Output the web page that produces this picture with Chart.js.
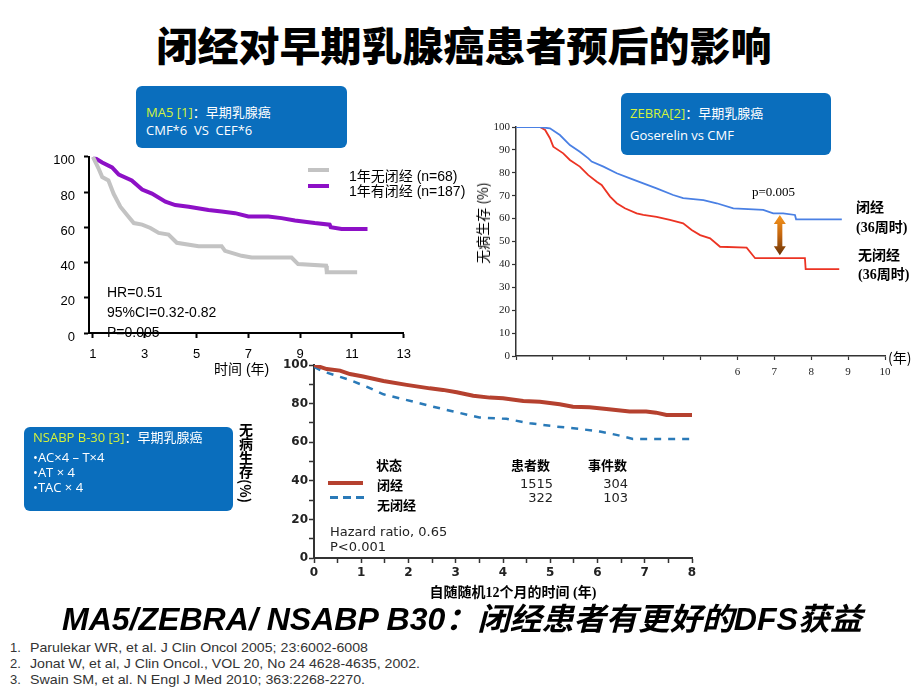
<!DOCTYPE html>
<html><head><meta charset="utf-8">
<script src="https://cdn.jsdelivr.net/npm/chart.js@4.4.1/dist/chart.umd.min.js"></script>
<style>
html,body{margin:0;padding:0;}
body{width:920px;height:690px;background:#fff;position:relative;overflow:hidden;font-family:"Liberation Sans","Noto Sans CJK SC",sans-serif;color:#000;}
canvas{position:absolute;}
.t{position:absolute;white-space:pre;line-height:1;transform:translateY(-50%);}
.box{position:absolute;background:#0a6ebd;border-radius:6px;color:#fff;font-family:"Open Sans","Noto Sans CJK SC",sans-serif;font-size:13px;z-index:5;}
.box .t{color:#fff;}
.y{color:#d4f23c;}
.fit{display:inline-block;white-space:pre;line-height:1;}
</style>
</head><body>

<!-- Title -->
<div class="t" style="left:0;width:920px;top:36px;text-align:center;">
  <span class="fit" data-w="615" style="font-family:'Noto Sans CJK SC';font-weight:900;font-size:40px;transform-origin:center;">闭经对早期乳腺癌患者预后的影响</span>
</div>

<!-- Canvases -->
<canvas id="c1" width="380" height="240" style="left:40px;top:140px;"></canvas>
<canvas id="c2" width="460" height="280" style="left:460px;top:110px;"></canvas>
<canvas id="c3" width="460" height="260" style="left:250px;top:350px;"></canvas>

<!-- MA5 box -->
<div class="box" style="left:136px;top:86px;width:211px;height:62px;">
  <div class="t" style="left:10px;top:25.5px;"><span class="y">MA5 [1]</span>：早期乳腺癌</div>
  <div class="t" style="left:10px;top:44px;">CMF*6  VS  CEF*6</div>
</div>
<!-- MA5 legend -->
<div style="position:absolute;left:308px;top:168px;width:21px;height:4px;background:#c3c3c3;"></div>
<div style="position:absolute;left:308px;top:184px;width:21px;height:4px;background:#8d10c6;"></div>
<div class="t" style="left:349px;top:176px;font-size:14px;">1年无闭经 (n=68)</div>
<div class="t" style="left:349px;top:191px;font-size:14px;">1年有闭经 (n=187)</div>
<div class="t" style="left:107px;top:292px;font-size:14px;">HR=0.51</div>
<div class="t" style="left:107px;top:312px;font-size:14px;">95%CI=0.32-0.82</div>
<div class="t" style="left:107px;top:332px;font-size:14px;">P=0.005</div>
<div class="t" style="left:214px;top:369px;font-size:14px;">时间 (年)</div>

<!-- ZEBRA box -->
<div class="box" style="left:621px;top:93px;width:210px;height:62px;">
  <div class="t" style="left:9px;top:20px;"><span class="y">ZEBRA[2]</span>：早期乳腺癌</div>
  <div class="t" style="left:9px;top:42px;">Goserelin vs CMF</div>
</div>
<div class="t" style="left:482px;top:223px;font-size:14px;transform:translate(-50%,-50%) rotate(-90deg);font-family:'Noto Sans CJK SC';">无病生存 (%)</div>
<div class="t" style="left:752px;top:191px;font-size:13px;font-family:'Liberation Serif';">p=0.005</div>
<div class="t" style="left:856px;top:208px;font-size:14px;font-weight:bold;font-family:'Liberation Serif','Noto Sans CJK SC';">闭经</div>
<div class="t" style="left:856px;top:228px;font-size:14px;font-weight:bold;font-family:'Liberation Serif','Noto Sans CJK SC';">(36周时)</div>
<div class="t" style="left:858px;top:256px;font-size:14px;font-weight:bold;font-family:'Liberation Serif','Noto Sans CJK SC';">无闭经</div>
<div class="t" style="left:858px;top:275px;font-size:14px;font-weight:bold;font-family:'Liberation Serif','Noto Sans CJK SC';">(36周时)</div>
<div class="t" style="left:888px;top:357px;font-size:14px;font-family:'Noto Sans CJK SC';">(年)</div>

<!-- NSABP box -->
<div class="box" style="left:24px;top:427px;width:209px;height:84px;">
  <div class="t" style="left:9px;top:10px;"><span class="y">NSABP B-30 [3]</span>：早期乳腺癌</div>
  <div class="t" style="left:9px;top:30px;">•AC×4 – T×4</div>
  <div class="t" style="left:9px;top:45px;">•AT × 4</div>
  <div class="t" style="left:9px;top:60px;">•TAC × 4</div>
</div>
<div style="position:absolute;left:238px;top:423px;font-size:14px;font-weight:bold;font-family:'Noto Sans CJK SC';writing-mode:vertical-rl;line-height:15px;">无病生存(%)</div>
<!-- NSABP legend -->
<div class="t" style="left:376px;top:464px;font-size:13px;font-weight:bold;font-family:'Noto Sans CJK SC';">状态</div>
<div class="t" style="left:511px;top:464px;font-size:13px;font-weight:bold;font-family:'Noto Sans CJK SC';">患者数</div>
<div class="t" style="left:588px;top:464px;font-size:13px;font-weight:bold;font-family:'Noto Sans CJK SC';">事件数</div>
<div style="position:absolute;left:328px;top:481px;width:35px;height:4px;background:#b5412f;"></div>
<div style="position:absolute;left:330px;top:496px;width:34px;height:2.5px;background:repeating-linear-gradient(90deg,#2a7ab8 0 8px,transparent 8px 13px);"></div>
<div class="t" style="left:377px;top:484px;font-size:13px;font-weight:bold;font-family:'Noto Sans CJK SC';">闭经</div>
<div class="t" style="left:377px;top:504px;font-size:13px;font-weight:bold;font-family:'Noto Sans CJK SC';">无闭经</div>
<div class="t" style="right:367px;top:483px;font-size:13px;font-family:'DejaVu Sans';color:#222;">1515</div>
<div class="t" style="right:367px;top:497px;font-size:13px;font-family:'DejaVu Sans';color:#222;">322</div>
<div class="t" style="right:292px;top:483px;font-size:13px;font-family:'DejaVu Sans';color:#222;">304</div>
<div class="t" style="right:292px;top:497px;font-size:13px;font-family:'DejaVu Sans';color:#222;">103</div>
<div class="t" style="left:330px;top:531px;font-size:13px;font-family:'DejaVu Sans';color:#222;">Hazard ratio, 0.65</div>
<div class="t" style="left:330px;top:546px;font-size:13px;font-family:'DejaVu Sans';color:#222;">P&lt;0.001</div>
<div class="t" style="left:0;width:1026px;top:593px;text-align:center;font-size:14px;font-weight:bold;font-family:'Liberation Serif','Noto Sans CJK SC';">自随随机12个月的时间 (年)</div>

<!-- Subtitle -->
<div class="t" style="left:0;width:916px;top:611px;text-align:center;">
  <span class="fit" data-w="800" style="font-family:'Liberation Sans Narrow','Liberation Sans','Noto Sans CJK SC';font-weight:bold;font-style:italic;font-size:31px;transform-origin:center;">MA5/ZEBRA/ NSABP B30：闭经患者有更好的DFS获益</span>
</div>

<!-- References -->
<div class="t" style="left:10px;top:647px;font-size:13px;color:#333;">1.</div>
<div class="t" style="left:10px;top:663px;font-size:13px;color:#333;">2.</div>
<div class="t" style="left:10px;top:679px;font-size:13px;color:#333;">3.</div>
<div class="t" style="left:30px;top:647px;font-size:13px;color:#333;"><span class="fit" data-w="338" style="transform-origin:left;">Parulekar WR, et al. J Clin Oncol 2005; 23:6002-6008</span></div>
<div class="t" style="left:30px;top:663px;font-size:13px;color:#333;"><span class="fit" data-w="390" style="transform-origin:left;">Jonat W, et al, J Clin Oncol., VOL 20, No 24 4628-4635, 2002.</span></div>
<div class="t" style="left:30px;top:679px;font-size:13px;color:#333;"><span class="fit" data-w="335" style="transform-origin:left;">Swain SM, et al. N Engl J Med 2010; 363:2268-2270.</span></div>

<script>
// ---------- Data ----------
// MA5 (DFS %, years)
const ma5XTicks = [1, 3, 5, 7, 9, 11, 13];
const ma5NoAmenYears = [1, 1.23, 1.36, 1.6, 1.8, 2.06, 2.32, 2.58, 2.9, 3.22, 3.54, 3.92, 4.24, 5.08, 5.97, 6.1, 6.74, 7.13, 8.67, 8.92, 10.0, 10.03, 11.2];
const ma5NoAmenDFS   = [100, 93, 88.5, 86.6, 79, 71.7, 67, 62.4, 61.5, 59.6, 56.8, 55.9, 51.2, 49.3, 49.3, 46.6, 43.8, 42.8, 42.8, 39.1, 38.2, 34.5, 34.5];
const ma5AmenYears = [1, 1.36, 1.74, 2.0, 2.5, 2.9, 3.28, 3.8, 4.18, 4.7, 5.46, 5.97, 6.49, 7.0, 7.77, 8.28, 8.8, 9.56, 10.14, 10.18, 10.6, 11.6];
const ma5AmenDFS   = [100, 96.8, 94, 89.9, 86.6, 81.4, 79.1, 74.5, 72.6, 71.7, 69.8, 68.9, 68, 66.1, 66.1, 65.2, 63.9, 62.4, 61.5, 60.1, 59, 59];

// ZEBRA (无病生存 %, years)
const zebraAmenYears = [0, 0.65, 0.92, 1.19, 1.46, 1.73, 1.96, 2.05, 2.37, 2.73, 3.09, 3.45, 3.81, 4.26, 4.53, 5.08, 5.44, 5.89, 6.7, 6.97, 7.24, 7.56, 7.59, 8.83];
const zebraAmenDFS   = [100, 100, 99.4, 96.5, 92.1, 89.2, 86.3, 84.9, 82.7, 79.8, 77.6, 75.4, 73.2, 70.3, 68.9, 68.1, 66.7, 64.5, 63.8, 62.3, 62.3, 61.6, 59.7, 59.7];
const zebraNoAmenYears = [0, 0.65, 0.79, 0.92, 1.01, 1.28, 1.46, 1.73, 1.96, 2.19, 2.32, 2.55, 2.73, 2.95, 3.27, 3.45, 3.81, 4.17, 4.53, 4.76, 4.99, 5.26, 5.53, 6.25, 6.48, 7.83, 7.85, 8.76];
const zebraNoAmenDFS   = [100, 100, 98.7, 95.1, 91.4, 88.5, 85.6, 82.7, 79, 76.1, 74.7, 69.6, 66.7, 64.5, 62.3, 61.6, 60.8, 59.4, 57.9, 55, 52.8, 51.4, 47.7, 47.3, 42.7, 42.7, 37.9, 37.9];
const zebraLabeledYears = [6, 7, 8, 9, 10];

// NSABP B-30 (无病生存 %, years from 12 months post-randomization)
const nsabpAmenYears = [0, 0.27, 0.55, 0.76, 1.04, 1.47, 1.96, 2.45, 2.73, 3.02, 3.37, 3.72, 4.0, 4.43, 4.78, 5.2, 5.48, 5.83, 6.19, 6.68, 7.03, 7.24, 7.46, 8];
const nsabpAmenDFS   = [100, 97.9, 97.1, 95.3, 94, 91.7, 89.7, 87.9, 87.1, 85.9, 84.1, 83.1, 82.8, 81.4, 81, 79.7, 78.4, 78.1, 77.2, 75.9, 75.9, 75.3, 74.1, 74.1];
const nsabpNoAmenYears = [0, 0.2, 0.76, 1.11, 1.47, 2.1, 2.52, 2.95, 3.5, 4.07, 4.57, 5.13, 5.62, 6.05, 6.4, 6.75, 8];
const nsabpNoAmenDFS   = [99, 96.6, 92.2, 88.8, 84.8, 81, 78.4, 75.9, 72.8, 72.1, 69.8, 68.1, 66.9, 65.5, 63.8, 61.7, 61.7];

// ---------- Helpers ----------
const pts = (xs, ys) => xs.map((x, i) => ({x: x, y: ys[i]}));
const base = (pad) => ({
  responsive: false, animation: false, devicePixelRatio: 1,
  layout: {padding: pad},
  plugins: {legend: {display: false}, tooltip: {enabled: false}},
  elements: {point: {radius: 0}, line: {tension: 0}},
});

// ---------- Chart 1: MA5 ----------
new Chart(document.getElementById('c1'), {
  type: 'line',
  data: {datasets: [
    {data: pts(ma5NoAmenYears, ma5NoAmenDFS), borderColor: '#c3c3c3', borderWidth: 4, fill: false},
    {data: pts(ma5AmenYears, ma5AmenDFS), borderColor: '#8d10c6', borderWidth: 4, fill: false}
  ]},
  options: Object.assign(base({left: 0, right: 15, top: 14, bottom: 0}), {
    scales: {
      x: {type: 'linear', min: 0.85, max: 13,
        afterBuildTicks: s => { s.ticks = ma5XTicks.map(v => ({value: v})); },
        afterFit: s => { s.height = 47; },
        grid: {drawOnChartArea: false, drawTicks: true, tickLength: 5, color: '#000', tickColor: '#000', tickWidth: 2},
        border: {color: '#000', width: 2},
        ticks: {color: '#000', font: {family: 'Liberation Sans', size: 13}, padding: 9, maxRotation: 0, autoSkip: false}},
      y: {min: 0, max: 100,
        afterFit: s => { s.width = 49; },
        grid: {drawOnChartArea: false, drawTicks: true, tickLength: 5, color: '#000', tickColor: '#000', tickWidth: 2},
        border: {color: '#000', width: 2},
        ticks: {stepSize: 20, color: '#000', font: {family: 'Liberation Sans', size: 13}, padding: 9, labelOffset: 4}}
    }
  })
});

// ---------- Chart 2: ZEBRA ----------
const zebraArrow = {year: 7.15, top: 61.6, bottom: 44};
const arrowPlugin = {
  id: 'gapArrow',
  afterDatasetsDraw(chart) {
    const {ctx, scales: {x, y}} = chart;
    const px = x.getPixelForValue(zebraArrow.year);
    const t = y.getPixelForValue(zebraArrow.top);
    const b = y.getPixelForValue(zebraArrow.bottom);
    const g = ctx.createLinearGradient(0, t, 0, b);
    g.addColorStop(0, '#f7961c'); g.addColorStop(0.5, '#c4660f'); g.addColorStop(1, '#6b3306');
    const hw = 6, sw = 2.5, hh = 9;
    ctx.save(); ctx.fillStyle = g; ctx.beginPath();
    ctx.moveTo(px, t); ctx.lineTo(px + hw, t + hh); ctx.lineTo(px + sw, t + hh);
    ctx.lineTo(px + sw, b - hh); ctx.lineTo(px + hw, b - hh); ctx.lineTo(px, b);
    ctx.lineTo(px - hw, b - hh); ctx.lineTo(px - sw, b - hh); ctx.lineTo(px - sw, t + hh);
    ctx.lineTo(px - hw, t + hh); ctx.closePath(); ctx.fill(); ctx.restore();
  }
};
new Chart(document.getElementById('c2'), {
  type: 'line',
  data: {datasets: [
    {data: pts(zebraAmenYears, zebraAmenDFS), borderColor: '#4a80e4', borderWidth: 1.8, fill: false},
    {data: pts(zebraNoAmenYears, zebraNoAmenDFS), borderColor: '#ec3323', borderWidth: 1.8, fill: false}
  ]},
  plugins: [arrowPlugin],
  options: Object.assign(base({left: 0, right: 35, top: 17, bottom: 0}), {
    scales: {
      x: {type: 'linear', min: 0, max: 10,
        afterFit: s => { s.height = 34; },
        grid: {drawOnChartArea: false, drawTicks: true, tickLength: 4, color: '#333', tickColor: '#333', tickWidth: 1.2},
        border: {color: '#333', width: 1.5},
        ticks: {stepSize: 1, autoSkip: false, maxRotation: 0, color: '#222', font: {family: 'Liberation Serif', size: 11}, padding: 6,
          callback: v => zebraLabeledYears.includes(v) ? String(v) : ''}},
      y: {min: 0, max: 100,
        afterFit: s => { s.width = 56; },
        grid: {drawOnChartArea: false, drawTicks: true, tickLength: 4, color: '#333', tickColor: '#333', tickWidth: 1.2},
        border: {color: '#333', width: 1.5},
        ticks: {stepSize: 10, color: '#222', font: {family: 'Liberation Serif', size: 11}, padding: 2}}
    }
  })
});

// ---------- Chart 3: NSABP B-30 ----------
new Chart(document.getElementById('c3'), {
  type: 'line',
  data: {datasets: [
    {data: pts(nsabpAmenYears, nsabpAmenDFS), borderColor: '#b5412f', borderWidth: 4, fill: false},
    {data: pts(nsabpNoAmenYears, nsabpNoAmenDFS), borderColor: '#2a7ab8', borderWidth: 2.5, borderDash: [7, 7], fill: false}
  ]},
  options: Object.assign(base({left: 0, right: 18, top: 15, bottom: 0}), {
    scales: {
      x: {type: 'linear', min: 0, max: 8,
        afterFit: s => { s.height = 52; },
        grid: {drawOnChartArea: false, drawTicks: true, tickLength: 5, color: '#333', tickColor: '#333', tickWidth: 1.5},
        border: {color: '#333', width: 2},
        ticks: {stepSize: 0.5, autoSkip: false, maxRotation: 0, color: '#222', font: {family: 'DejaVu Sans', size: 12, weight: 'bold'}, padding: 3,
          callback: v => Number.isInteger(v) ? String(v) : ''}},
      y: {min: 0, max: 100,
        afterFit: s => { s.width = 64; },
        grid: {drawOnChartArea: false, drawTicks: true, tickLength: 5, color: '#333', tickColor: '#333', tickWidth: 1.5},
        border: {color: '#333', width: 2},
        ticks: {stepSize: 10, color: '#222', font: {family: 'DejaVu Sans', size: 12, weight: 'bold'}, padding: 1,
          callback: v => (v % 20 === 0) ? String(v) : ''}}
    }
  })
});

// ---------- Fit wide texts ----------
function fitTexts() {
  document.querySelectorAll('.fit').forEach(el => {
    el.style.transform = 'none';
    const w = el.getBoundingClientRect().width;
    const target = parseFloat(el.dataset.w);
    if (w > 0) el.style.transform = 'scaleX(' + (target / w) + ')';
  });
}
fitTexts();
if (document.fonts && document.fonts.ready) document.fonts.ready.then(fitTexts);
</script>
</body></html>
